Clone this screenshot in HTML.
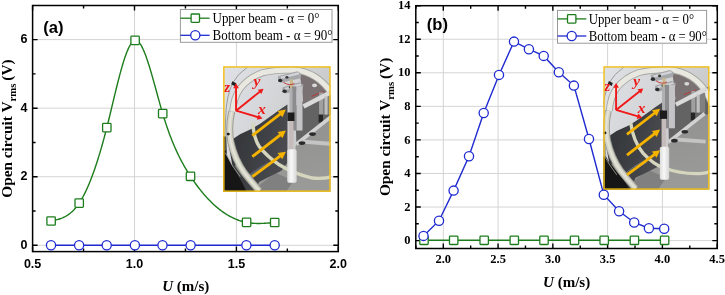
<!DOCTYPE html><html><head><meta charset="utf-8"><style>html,body{margin:0;padding:0;background:#fff;}svg{will-change:transform;}svg{display:block;}.ts{font-family:"Liberation Sans",sans-serif;font-weight:bold;font-size:12.5px;fill:#000;}.tr{font-family:"Liberation Serif",serif;font-weight:bold;font-size:12.5px;fill:#000;}.lg{font-family:"Liberation Serif",serif;font-size:13px;fill:#000;}.tt{font-family:"Liberation Serif",serif;font-weight:bold;font-size:15px;fill:#000;}.pl{font-family:"Liberation Sans",sans-serif;font-weight:bold;font-size:16.6px;fill:#000;}.ax{font-family:"Liberation Serif",serif;font-style:italic;font-weight:bold;font-size:15.5px;fill:#ee1818;}</style></head><body>
<svg width="725" height="295" viewBox="0 0 725 295">
<line x1="134.50" y1="5.5" x2="134.50" y2="251.6" stroke="#d4d4d4" stroke-width="1"/>
<line x1="236.40" y1="5.5" x2="236.40" y2="251.6" stroke="#d4d4d4" stroke-width="1"/>
<line x1="32.6" y1="245.30" x2="338.3" y2="245.30" stroke="#d4d4d4" stroke-width="1"/>
<line x1="32.6" y1="176.74" x2="338.3" y2="176.74" stroke="#d4d4d4" stroke-width="1"/>
<line x1="32.6" y1="108.18" x2="338.3" y2="108.18" stroke="#d4d4d4" stroke-width="1"/>
<line x1="32.6" y1="39.62" x2="338.3" y2="39.62" stroke="#d4d4d4" stroke-width="1"/>
<path d="M32.60 251.6v-5M32.60 5.5v5M134.50 251.6v-5M134.50 5.5v5M236.40 251.6v-5M236.40 5.5v5M338.30 251.6v-5M338.30 5.5v5M83.55 251.6v-3M83.55 5.5v3M185.45 251.6v-3M185.45 5.5v3M287.35 251.6v-3M287.35 5.5v3M32.6 245.30h5M338.3 245.30h-5M32.6 176.74h5M338.3 176.74h-5M32.6 108.18h5M338.3 108.18h-5M32.6 39.62h5M338.3 39.62h-5M32.6 211.02h3M338.3 211.02h-3M32.6 142.46h3M338.3 142.46h-3M32.6 73.90h3M338.3 73.90h-3" stroke="#000" stroke-width="1.4" fill="none"/>
<rect x="32.6" y="5.5" width="305.70" height="246.10" fill="none" stroke="#000" stroke-width="1.5"/>
<text x="32.60" y="267.50" text-anchor="middle" class="ts">0.5</text>
<text x="134.50" y="267.50" text-anchor="middle" class="ts">1.0</text>
<text x="236.40" y="267.50" text-anchor="middle" class="ts">1.5</text>
<text x="338.30" y="267.50" text-anchor="middle" class="ts">2.0</text>
<text x="27.40" y="249.00" text-anchor="end" class="ts">0</text>
<text x="27.40" y="180.44" text-anchor="end" class="ts">2</text>
<text x="27.40" y="111.88" text-anchor="end" class="ts">4</text>
<text x="27.40" y="43.32" text-anchor="end" class="ts">6</text>
<line x1="443.30" y1="5.7" x2="443.30" y2="248.5" stroke="#d4d4d4" stroke-width="1"/>
<line x1="498.07" y1="5.7" x2="498.07" y2="248.5" stroke="#d4d4d4" stroke-width="1"/>
<line x1="552.85" y1="5.7" x2="552.85" y2="248.5" stroke="#d4d4d4" stroke-width="1"/>
<line x1="607.62" y1="5.7" x2="607.62" y2="248.5" stroke="#d4d4d4" stroke-width="1"/>
<line x1="662.40" y1="5.7" x2="662.40" y2="248.5" stroke="#d4d4d4" stroke-width="1"/>
<line x1="415.8" y1="240.60" x2="717.3" y2="240.60" stroke="#d4d4d4" stroke-width="1"/>
<line x1="415.8" y1="207.04" x2="717.3" y2="207.04" stroke="#d4d4d4" stroke-width="1"/>
<line x1="415.8" y1="173.48" x2="717.3" y2="173.48" stroke="#d4d4d4" stroke-width="1"/>
<line x1="415.8" y1="139.92" x2="717.3" y2="139.92" stroke="#d4d4d4" stroke-width="1"/>
<line x1="415.8" y1="106.36" x2="717.3" y2="106.36" stroke="#d4d4d4" stroke-width="1"/>
<line x1="415.8" y1="72.80" x2="717.3" y2="72.80" stroke="#d4d4d4" stroke-width="1"/>
<line x1="415.8" y1="39.24" x2="717.3" y2="39.24" stroke="#d4d4d4" stroke-width="1"/>
<path d="M443.30 248.5v-5M443.30 5.7v5M498.07 248.5v-5M498.07 5.7v5M552.85 248.5v-5M552.85 5.7v5M607.62 248.5v-5M607.62 5.7v5M662.40 248.5v-5M662.40 5.7v5M717.17 248.5v-5M717.17 5.7v5M415.91 248.5v-3M415.91 5.7v3M470.69 248.5v-3M470.69 5.7v3M525.46 248.5v-3M525.46 5.7v3M580.24 248.5v-3M580.24 5.7v3M635.01 248.5v-3M635.01 5.7v3M689.79 248.5v-3M689.79 5.7v3M415.8 240.60h5M717.3 240.60h-5M415.8 207.04h5M717.3 207.04h-5M415.8 173.48h5M717.3 173.48h-5M415.8 139.92h5M717.3 139.92h-5M415.8 106.36h5M717.3 106.36h-5M415.8 72.80h5M717.3 72.80h-5M415.8 39.24h5M717.3 39.24h-5M415.8 5.68h5M717.3 5.68h-5M415.8 223.82h3M717.3 223.82h-3M415.8 190.26h3M717.3 190.26h-3M415.8 156.70h3M717.3 156.70h-3M415.8 123.14h3M717.3 123.14h-3M415.8 89.58h3M717.3 89.58h-3M415.8 56.02h3M717.3 56.02h-3M415.8 22.46h3M717.3 22.46h-3" stroke="#000" stroke-width="1.4" fill="none"/>
<rect x="415.8" y="5.7" width="301.50" height="242.80" fill="none" stroke="#000" stroke-width="1.5"/>
<text x="443.30" y="263.30" text-anchor="middle" class="tr">2.0</text>
<text x="498.07" y="263.30" text-anchor="middle" class="tr">2.5</text>
<text x="552.85" y="263.30" text-anchor="middle" class="tr">3.0</text>
<text x="607.62" y="263.30" text-anchor="middle" class="tr">3.5</text>
<text x="662.40" y="263.30" text-anchor="middle" class="tr">4.0</text>
<text x="717.17" y="263.30" text-anchor="middle" class="tr">4.5</text>
<text x="410.60" y="244.20" text-anchor="end" class="tr">0</text>
<text x="410.60" y="210.64" text-anchor="end" class="tr">2</text>
<text x="410.60" y="177.08" text-anchor="end" class="tr">4</text>
<text x="410.60" y="143.52" text-anchor="end" class="tr">6</text>
<text x="410.60" y="109.96" text-anchor="end" class="tr">8</text>
<text x="410.60" y="76.40" text-anchor="end" class="tr">10</text>
<text x="410.60" y="42.84" text-anchor="end" class="tr">12</text>
<text x="410.60" y="9.28" text-anchor="end" class="tr">14</text>
<defs><clipPath id="clipa"><rect x="0" y="0" width="107" height="125"/></clipPath><linearGradient id="bga" x1="0" y1="0" x2="1" y2="0.6"><stop offset="0" stop-color="#dee1e6"/><stop offset="0.5" stop-color="#d3d4d6"/><stop offset="1" stop-color="#c4c4c4"/></linearGradient><linearGradient id="dka" x1="0" y1="0" x2="1" y2="0.4"><stop offset="0" stop-color="#303236"/><stop offset="0.5" stop-color="#3a3c41"/><stop offset="1" stop-color="#4a4b50"/></linearGradient><filter id="bla" x="-5%" y="-5%" width="110%" height="110%"><feGaussianBlur stdDeviation="0.45"/></filter><linearGradient id="fla" x1="0" y1="0" x2="0.3" y2="1"><stop offset="0" stop-color="#909090"/><stop offset="1" stop-color="#9a9a98"/></linearGradient><linearGradient id="cya" x1="0" y1="0" x2="1" y2="0"><stop offset="0" stop-color="#dcdcdc"/><stop offset="0.45" stop-color="#f8f8f8"/><stop offset="1" stop-color="#d6d6d6"/></linearGradient></defs><g transform="translate(223.2,66.3) scale(1.0037,1.0040)"><g clip-path="url(#clipa)"><rect x="0" y="0" width="107" height="125" fill="url(#bga)"/><g filter="url(#bla)"><g transform="translate(0,0)"><path d="M76 36 L118 20 L118 46 L73 82 L72 40 Z" fill="#646464"/><path d="M76 6 Q94 8 106 24 L80 39 L78 20 Z" fill="#7a7272"/><ellipse cx="91" cy="19" rx="2.5" ry="1.8" fill="#d8d8d8"/><path d="M88 30 L100 25" stroke="#c03030" stroke-width="0.9"/><path d="M72 80 L108 50 L118 50 L118 130 L20 130 L30 110 L60 100 L64 92 L72 92 Z" fill="url(#fla)"/><path d="M34 120 L52 106 L70 114 L62 126 L34 126 Z" fill="#808080"/></g><path d="M5 75 L9.3 72.7 L16.8 67.6 L29 62 L37.1 56.9 L51.4 46.7 L55.4 43.7 L64 38 L64 96 L58 104 L46 110 L36 115 L30 126 L24 126 L10 104 Z" fill="url(#dka)"/><path d="M24 110 Q34 100 46 95 L48 98 Q36 104 26 114 Z" fill="#6a7080" opacity="0.7"/><g transform="translate(0,0)"><path d="M-8 70 L3 70 L3.5 88 Q8 98 13.2 106 Q18 114 24 126 L-8 126 Z" fill="#141414"/><path d="M2 86 Q9 100 17 110" fill="none" stroke="#a8a8a0" stroke-width="0.8"/><path d="M13 98 Q22 112 36 124" fill="none" stroke="#b4b4a0" stroke-width="4" opacity="0.6"/><path d="M8.5 45 Q5 60 7.5 75 Q11.5 93 21 106 Q28 115 36 124" fill="none" stroke="#9c9c96" stroke-width="7"/><path d="M8.5 45 Q5 60 7.5 75 Q11.5 93 21 106 Q28 115 36 124" fill="none" stroke="#d4d4c6" stroke-width="5"/><path d="M8.5 45 Q5 60 7.5 75 Q11.5 93 21 106 Q28 115 36 124" fill="none" stroke="#e4e4da" stroke-width="1.6"/><path d="M24 1 Q14 8 9.5 16.5 Q3 30 2.5 50 Q1.5 66 2 84" fill="none" stroke="#8a8a8a" stroke-width="0.8"/><path d="M9 15 L13 17 L12 20 L8 18 Z" fill="#222"/><ellipse cx="20" cy="21.7" rx="1.8" ry="1" fill="#f4f4f4"/><ellipse cx="5" cy="67.5" rx="1.6" ry="1.4" fill="#1e1e1e"/><path d="M9.5 45 Q10.5 31 17 22 Q25 11.5 39 6.5 Q50 3.5 70 3.5 Q94 5.5 108 27 L114 40" fill="none" stroke="#a4a4a0" stroke-width="7"/><path d="M9.5 45 Q10.5 31 17 22 Q25 11.5 39 6.5 Q50 3.5 70 3.5 Q94 5.5 108 27 L114 40" fill="none" stroke="#e8e7e0" stroke-width="5.2"/></g><path d="M29.5 56 Q30.5 72 36 80 Q44 90 55 97.5 Q70 107 89 111.3 Q100 112.5 112 109" fill="none" stroke="#d6d6be" stroke-width="3.4"/><g transform="translate(0,0)"><path d="M54.5 10 L74 5 L78 7.5 L77 12 L58 16.5 L55 14.5 Z" fill="#a6a7aa"/><path d="M57 10.5 L75 6 L76 8 L58 12.5 Z" fill="#d4d5d8"/><path d="M59 21 L76 16 L80 18.5 L79 23 L62 27 L59 25 Z" fill="#a0a1a4"/><path d="M61 21.5 L77 17 L78 19 L62 23.5 Z" fill="#cfd0d2"/><ellipse cx="56.8" cy="14.2" rx="2.2" ry="1.8" fill="#2c2c2c"/><ellipse cx="61.2" cy="24.8" rx="2.2" ry="1.8" fill="#2c2c2c"/><ellipse cx="63.5" cy="11" rx="1.6" ry="1.4" fill="#3a3a3a"/><ellipse cx="67" cy="21" rx="1.6" ry="1.4" fill="#3a3a3a"/><rect x="66.5" y="13" width="3" height="10" fill="#c8b88a"/><path d="M60 16 Q66 20 71 17" fill="none" stroke="#c83030" stroke-width="0.9"/><rect x="68.5" y="20" width="4.5" height="44" fill="#8c8c8e"/><rect x="73" y="20" width="6" height="44" fill="#c4c4c6"/><rect x="95.5" y="26" width="4" height="26" fill="#a0a0a0"/><rect x="95" y="48" width="4.5" height="8" fill="#262626"/><rect x="99.5" y="28" width="10" height="20" fill="#808080"/><path d="M79 38 L104 25 L110 22 L112 26 L81 42 Z" fill="#dadada"/><path d="M72 76 L108 47.5 L110 50.5 L73.5 79.5 Z" fill="#d2d2d2"/><path d="M77 73 L110 75.5 L110 79.5 L77 77 Z" fill="#c4c4c4"/><rect x="101" y="30" width="3" height="18" fill="#c0c0c0"/><ellipse cx="89" cy="67.5" rx="3.4" ry="1.8" fill="#2a2a2a"/><ellipse cx="78.5" cy="76.5" rx="3.4" ry="1.8" fill="#2a2a2a"/><rect x="66" y="22" width="3" height="24" fill="#b0b0b2"/><rect x="64" y="46" width="7" height="8.5" fill="#1a1a1a"/><rect x="65.5" y="54.5" width="4.5" height="29" fill="#c6bcbc"/><rect x="63.8" y="82.6" width="9.4" height="33.5" rx="1.8" fill="url(#cya)"/></g></g><line x1="29.00" y1="69.00" x2="56.97" y2="47.29" stroke="#f5b300" stroke-width="2.8"/><polygon points="62.50,43.00 58.97,50.68 54.18,44.52" fill="#f5b300"/><line x1="29.00" y1="90.00" x2="56.97" y2="68.29" stroke="#f5b300" stroke-width="2.8"/><polygon points="62.50,64.00 58.97,71.68 54.18,65.52" fill="#f5b300"/><line x1="29.00" y1="110.00" x2="56.89" y2="89.19" stroke="#f5b300" stroke-width="2.8"/><polygon points="62.50,85.00 58.82,92.61 54.16,86.36" fill="#f5b300"/><line x1="12.80" y1="44.20" x2="12.80" y2="21.30" stroke="#f01818" stroke-width="1.9"/><polygon points="12.80,16.80 15.60,21.80 10.00,21.80" fill="#f01818"/><line x1="12.80" y1="44.20" x2="36.68" y2="25.20" stroke="#f01818" stroke-width="1.9"/><polygon points="40.20,22.40 38.03,27.70 34.54,23.32" fill="#f01818"/><line x1="12.80" y1="44.20" x2="34.88" y2="50.72" stroke="#f01818" stroke-width="1.9"/><polygon points="39.20,52.00 33.61,53.27 35.20,47.90" fill="#f01818"/><text x="0.8" y="25.4" class="ax">z</text><text x="30.2" y="19.8" class="ax">y</text><text x="34.6" y="47.6" class="ax">x</text></g><rect x="0.65" y="0.65" width="105.7" height="123.7" fill="none" stroke="#f4c014" stroke-width="1.4"/></g>
<defs><clipPath id="clipb"><rect x="0" y="0" width="107" height="125"/></clipPath><linearGradient id="bgb" x1="0" y1="0" x2="1" y2="0.6"><stop offset="0" stop-color="#dee1e6"/><stop offset="0.5" stop-color="#d3d4d6"/><stop offset="1" stop-color="#c4c4c4"/></linearGradient><linearGradient id="dkb" x1="0" y1="0" x2="1" y2="0.4"><stop offset="0" stop-color="#303236"/><stop offset="0.5" stop-color="#3a3c41"/><stop offset="1" stop-color="#4a4b50"/></linearGradient><filter id="blb" x="-5%" y="-5%" width="110%" height="110%"><feGaussianBlur stdDeviation="0.45"/></filter><linearGradient id="flb" x1="0" y1="0" x2="0.3" y2="1"><stop offset="0" stop-color="#909090"/><stop offset="1" stop-color="#9a9a98"/></linearGradient><linearGradient id="cyb" x1="0" y1="0" x2="1" y2="0"><stop offset="0" stop-color="#dcdcdc"/><stop offset="0.45" stop-color="#f8f8f8"/><stop offset="1" stop-color="#d6d6d6"/></linearGradient></defs><g transform="translate(603.4,66.3) scale(0.9907,0.9872)"><g clip-path="url(#clipb)"><rect x="0" y="0" width="107" height="125" fill="url(#bgb)"/><g filter="url(#blb)"><g transform="translate(-6.8,-1.2)"><path d="M76 36 L118 20 L118 46 L73 82 L72 40 Z" fill="#646464"/><path d="M76 6 Q94 8 106 24 L80 39 L78 20 Z" fill="#7a7272"/><ellipse cx="91" cy="19" rx="2.5" ry="1.8" fill="#d8d8d8"/><path d="M88 30 L100 25" stroke="#c03030" stroke-width="0.9"/><path d="M72 80 L108 50 L118 50 L118 130 L20 130 L30 110 L60 100 L64 92 L72 92 Z" fill="url(#flb)"/><path d="M34 120 L52 106 L70 114 L62 126 L34 126 Z" fill="#808080"/></g><path transform="translate(-3.5,-2)" d="M5 75 L9.3 72.7 L16.8 67.6 L29 62 L37.1 56.9 L51.4 46.7 L55.4 43.7 L64 38 L64 96 L58 104 L46 110 L36 115 L30 128 L24 128 L10 104 Z" fill="url(#dkb)"/><path d="M20 110 Q30 100 42 95 L44 98 Q32 104 22 114 Z" fill="#6a7080" opacity="0.7"/><g transform="translate(-3.5,0)"><path d="M-8 91 L6 91 Q10 100 17 106 Q24 115 31 126 L-8 126 Z" fill="#141414"/><path d="M-8 60 L5 60 L6 91 L-8 91 Z" fill="#8e8e8e"/><path d="M2 86 Q9 100 17 110" fill="none" stroke="#a8a8a0" stroke-width="0.8"/><path d="M13 98 Q22 112 36 124" fill="none" stroke="#b4b4a0" stroke-width="4" opacity="0.6"/><path d="M8.5 45 Q5 60 7.5 75 Q11.5 93 21 106 Q28 115 36 124" fill="none" stroke="#9c9c96" stroke-width="7"/><path d="M8.5 45 Q5 60 7.5 75 Q11.5 93 21 106 Q28 115 36 124" fill="none" stroke="#d4d4c6" stroke-width="5"/><path d="M8.5 45 Q5 60 7.5 75 Q11.5 93 21 106 Q28 115 36 124" fill="none" stroke="#e4e4da" stroke-width="1.6"/><path d="M24 1 Q14 8 9.5 16.5 Q3 30 2.5 50 Q1.5 66 2 84" fill="none" stroke="#8a8a8a" stroke-width="0.8"/><path d="M9 15 L13 17 L12 20 L8 18 Z" fill="#222"/><ellipse cx="20" cy="21.7" rx="1.8" ry="1" fill="#f4f4f4"/><ellipse cx="5" cy="67.5" rx="1.6" ry="1.4" fill="#1e1e1e"/><path d="M9.5 45 Q10.5 31 17 22 Q25 11.5 39 6.5 Q50 3.5 70 3.5 Q94 5.5 108 27 L114 40" fill="none" stroke="#a4a4a0" stroke-width="7"/><path d="M9.5 45 Q10.5 31 17 22 Q25 11.5 39 6.5 Q50 3.5 70 3.5 Q94 5.5 108 27 L114 40" fill="none" stroke="#e8e7e0" stroke-width="5.2"/></g><path d="M27.5 57 Q30 76 40 88 Q50 99 60 102.5 Q80 110 100 108.5 Q106 108 112 104" fill="none" stroke="#d6d6be" stroke-width="3.4"/><g transform="translate(-6.8,-1.2)"><path d="M54.5 10 L74 5 L78 7.5 L77 12 L58 16.5 L55 14.5 Z" fill="#a6a7aa"/><path d="M57 10.5 L75 6 L76 8 L58 12.5 Z" fill="#d4d5d8"/><path d="M59 21 L76 16 L80 18.5 L79 23 L62 27 L59 25 Z" fill="#a0a1a4"/><path d="M61 21.5 L77 17 L78 19 L62 23.5 Z" fill="#cfd0d2"/><ellipse cx="56.8" cy="14.2" rx="2.2" ry="1.8" fill="#2c2c2c"/><ellipse cx="61.2" cy="24.8" rx="2.2" ry="1.8" fill="#2c2c2c"/><ellipse cx="63.5" cy="11" rx="1.6" ry="1.4" fill="#3a3a3a"/><ellipse cx="67" cy="21" rx="1.6" ry="1.4" fill="#3a3a3a"/><rect x="66.5" y="13" width="3" height="10" fill="#c8b88a"/><path d="M60 16 Q66 20 71 17" fill="none" stroke="#c83030" stroke-width="0.9"/><rect x="68.5" y="20" width="4.5" height="44" fill="#8c8c8e"/><rect x="73" y="20" width="6" height="44" fill="#c4c4c6"/><rect x="95.5" y="26" width="4" height="26" fill="#a0a0a0"/><rect x="95" y="48" width="4.5" height="8" fill="#262626"/><rect x="99.5" y="28" width="10" height="20" fill="#808080"/><path d="M79 38 L104 25 L110 22 L112 26 L81 42 Z" fill="#dadada"/><path d="M72 76 L108 47.5 L110 50.5 L73.5 79.5 Z" fill="#d2d2d2"/><path d="M77 73 L110 75.5 L110 79.5 L77 77 Z" fill="#c4c4c4"/><rect x="101" y="30" width="3" height="18" fill="#c0c0c0"/><ellipse cx="89" cy="67.5" rx="3.4" ry="1.8" fill="#2a2a2a"/><ellipse cx="78.5" cy="76.5" rx="3.4" ry="1.8" fill="#2a2a2a"/><rect x="66" y="22" width="3" height="24" fill="#b0b0b2"/><rect x="64" y="46" width="7" height="8.5" fill="#1a1a1a"/><rect x="65.5" y="54.5" width="4.5" height="29" fill="#c6bcbc"/><rect x="63.8" y="82.6" width="9.4" height="33.5" rx="1.8" fill="url(#cyb)"/></g></g><line x1="23.80" y1="69.00" x2="51.77" y2="47.29" stroke="#f5b300" stroke-width="2.8"/><polygon points="57.30,43.00 53.77,50.68 48.98,44.52" fill="#f5b300"/><line x1="23.80" y1="90.00" x2="51.77" y2="68.29" stroke="#f5b300" stroke-width="2.8"/><polygon points="57.30,64.00 53.77,71.68 48.98,65.52" fill="#f5b300"/><line x1="23.80" y1="110.00" x2="51.69" y2="89.19" stroke="#f5b300" stroke-width="2.8"/><polygon points="57.30,85.00 53.62,92.61 48.96,86.36" fill="#f5b300"/><line x1="12.80" y1="44.20" x2="12.80" y2="21.30" stroke="#f01818" stroke-width="1.9"/><polygon points="12.80,16.80 15.60,21.80 10.00,21.80" fill="#f01818"/><line x1="12.80" y1="44.20" x2="36.68" y2="25.20" stroke="#f01818" stroke-width="1.9"/><polygon points="40.20,22.40 38.03,27.70 34.54,23.32" fill="#f01818"/><line x1="12.80" y1="44.20" x2="34.88" y2="50.72" stroke="#f01818" stroke-width="1.9"/><polygon points="39.20,52.00 33.61,53.27 35.20,47.90" fill="#f01818"/><text x="0.8" y="25.4" class="ax">z</text><text x="30.2" y="19.8" class="ax">y</text><text x="34.6" y="47.6" class="ax">x</text></g><rect x="0.65" y="0.65" width="105.7" height="123.7" fill="none" stroke="#f4c014" stroke-width="1.4"/></g>
<rect x="180.4" y="9.5" width="151.60" height="32.80" fill="#fff" stroke="#9a9a9a" stroke-width="1"/>
<line x1="180.4" y1="18.2" x2="209.6" y2="18.2" stroke="#1d7d1d" stroke-width="1.3"/>
<rect x="191.10" y="14.00" width="8.4" height="8.4" rx="0.8" fill="#fff" stroke="#1d7d1d" stroke-width="1.3"/>
<line x1="180.4" y1="35.3" x2="209.6" y2="35.3" stroke="#1f2bd0" stroke-width="1.3"/>
<circle cx="195.30" cy="35.30" r="4.6" fill="#fff" stroke="#1f2bd0" stroke-width="1.3"/>
<text transform="translate(212.5,22.60) scale(1.0,1.08)" class="lg">Upper beam - &#945; = 0&#176;</text>
<text transform="translate(212.5,39.60) scale(1.0,1.08)" class="lg">Bottom beam - &#945; = 90&#176;</text>
<rect x="557.5" y="10.4" width="149.10" height="32.80" fill="#fff" stroke="#9a9a9a" stroke-width="1"/>
<line x1="557.5" y1="18.9" x2="586.3" y2="18.9" stroke="#1d7d1d" stroke-width="1.3"/>
<rect x="567.50" y="14.70" width="8.4" height="8.4" rx="0.8" fill="#fff" stroke="#1d7d1d" stroke-width="1.3"/>
<line x1="557.5" y1="36.0" x2="586.3" y2="36.0" stroke="#1f2bd0" stroke-width="1.3"/>
<circle cx="571.70" cy="36.00" r="4.6" fill="#fff" stroke="#1f2bd0" stroke-width="1.3"/>
<text transform="translate(588.7,23.60) scale(0.985,1.08)" class="lg">Upper beam - &#945; = 0&#176;</text>
<text transform="translate(588.7,40.60) scale(0.985,1.08)" class="lg">Bottom beam - &#945; = 90&#176;</text>
<path d="M51.10 221.00 L51.85 220.84 L52.60 220.69 L53.34 220.53 L54.09 220.37 L54.84 220.20 L55.59 220.02 L56.33 219.84 L57.08 219.64 L57.83 219.44 L58.58 219.22 L59.33 218.99 L60.07 218.75 L60.82 218.49 L61.57 218.21 L62.32 217.91 L63.07 217.59 L63.81 217.25 L64.56 216.88 L65.31 216.50 L66.06 216.08 L66.80 215.64 L67.55 215.17 L68.30 214.67 L69.05 214.13 L69.80 213.57 L70.54 212.97 L71.29 212.34 L72.04 211.66 L72.79 210.95 L73.53 210.21 L74.28 209.42 L75.03 208.58 L75.78 207.71 L76.53 206.78 L77.27 205.82 L78.02 204.80 L78.77 203.74 L79.52 202.62 L80.27 201.45 L81.01 200.24 L81.76 198.97 L82.51 197.65 L83.26 196.28 L84.00 194.85 L84.75 193.38 L85.50 191.86 L86.25 190.28 L87.00 188.66 L87.74 186.99 L88.49 185.26 L89.24 183.49 L89.99 181.66 L90.73 179.79 L91.48 177.86 L92.23 175.89 L92.98 173.86 L93.73 171.79 L94.47 169.66 L95.22 167.49 L95.97 165.27 L96.72 162.99 L97.47 160.67 L98.21 158.30 L98.96 155.88 L99.71 153.42 L100.46 150.90 L101.20 148.33 L101.95 145.72 L102.70 143.06 L103.45 140.35 L104.20 137.59 L104.94 134.78 L105.69 131.92 L106.44 129.02 L107.19 126.07 L107.93 123.07 L108.68 120.04 L109.43 116.97 L110.18 113.88 L110.93 110.77 L111.67 107.65 L112.42 104.52 L113.17 101.40 L113.92 98.28 L114.67 95.17 L115.41 92.09 L116.16 89.03 L116.91 86.01 L117.66 83.03 L118.40 80.09 L119.15 77.21 L119.90 74.38 L120.65 71.62 L121.40 68.94 L122.14 66.33 L122.89 63.81 L123.64 61.38 L124.39 59.05 L125.13 56.83 L125.88 54.72 L126.63 52.72 L127.38 50.85 L128.13 49.11 L128.87 47.51 L129.62 46.06 L130.37 44.75 L131.12 43.60 L131.87 42.62 L132.61 41.80 L133.36 41.16 L134.11 40.71 L134.86 40.44 L135.60 40.37 L136.35 40.50 L137.10 40.81 L137.85 41.30 L138.60 41.97 L139.34 42.80 L140.09 43.78 L140.84 44.93 L141.59 46.21 L142.33 47.64 L143.08 49.19 L143.83 50.87 L144.58 52.67 L145.33 54.58 L146.07 56.59 L146.82 58.70 L147.57 60.90 L148.32 63.18 L149.07 65.54 L149.81 67.96 L150.56 70.45 L151.31 72.99 L152.06 75.58 L152.80 78.22 L153.55 80.88 L154.30 83.57 L155.05 86.29 L155.80 89.02 L156.54 91.75 L157.29 94.48 L158.04 97.21 L158.79 99.92 L159.53 102.61 L160.28 105.27 L161.03 107.90 L161.78 110.48 L162.53 113.02 L163.27 115.50 L164.02 117.92 L164.77 120.29 L165.52 122.60 L166.27 124.86 L167.01 127.07 L167.76 129.23 L168.51 131.34 L169.26 133.39 L170.00 135.40 L170.75 137.37 L171.50 139.29 L172.25 141.16 L173.00 142.99 L173.74 144.78 L174.49 146.53 L175.24 148.24 L175.99 149.91 L176.73 151.54 L177.48 153.14 L178.23 154.70 L178.98 156.23 L179.73 157.73 L180.47 159.19 L181.22 160.62 L181.97 162.02 L182.72 163.40 L183.47 164.75 L184.21 166.07 L184.96 167.36 L185.71 168.64 L186.46 169.89 L187.20 171.11 L187.95 172.32 L188.70 173.51 L189.45 174.68 L190.20 175.84 L190.94 176.97 L191.69 178.10 L192.44 179.20 L193.19 180.29 L193.93 181.37 L194.68 182.43 L195.43 183.48 L196.18 184.51 L196.93 185.53 L197.67 186.53 L198.42 187.51 L199.17 188.49 L199.92 189.44 L200.67 190.39 L201.41 191.31 L202.16 192.23 L202.91 193.13 L203.66 194.01 L204.40 194.88 L205.15 195.74 L205.90 196.58 L206.65 197.40 L207.40 198.22 L208.14 199.01 L208.89 199.80 L209.64 200.57 L210.39 201.33 L211.13 202.07 L211.88 202.80 L212.63 203.51 L213.38 204.22 L214.13 204.90 L214.87 205.58 L215.62 206.24 L216.37 206.88 L217.12 207.52 L217.87 208.14 L218.61 208.75 L219.36 209.34 L220.11 209.92 L220.86 210.49 L221.60 211.04 L222.35 211.58 L223.10 212.11 L223.85 212.62 L224.60 213.13 L225.34 213.62 L226.09 214.09 L226.84 214.56 L227.59 215.01 L228.33 215.45 L229.08 215.87 L229.83 216.29 L230.58 216.69 L231.33 217.08 L232.07 217.45 L232.82 217.82 L233.57 218.17 L234.32 218.51 L235.07 218.84 L235.81 219.15 L236.56 219.46 L237.31 219.75 L238.06 220.03 L238.80 220.30 L239.55 220.55 L240.30 220.80 L241.05 221.03 L241.80 221.25 L242.54 221.46 L243.29 221.66 L244.04 221.85 L244.79 222.02 L245.53 222.19 L246.28 222.34 L247.03 222.48 L247.78 222.61 L248.53 222.73 L249.27 222.84 L250.02 222.94 L250.77 223.03 L251.52 223.11 L252.27 223.18 L253.01 223.24 L253.76 223.30 L254.51 223.34 L255.26 223.38 L256.00 223.41 L256.75 223.43 L257.50 223.45 L258.25 223.45 L259.00 223.45 L259.74 223.45 L260.49 223.44 L261.24 223.42 L261.99 223.40 L262.73 223.37 L263.48 223.34 L264.23 223.31 L264.98 223.27 L265.73 223.22 L266.47 223.17 L267.22 223.12 L267.97 223.07 L268.72 223.01 L269.47 222.95 L270.21 222.89 L270.96 222.83 L271.71 222.77 L272.46 222.70 L273.20 222.63 L273.95 222.57 L274.70 222.50" fill="none" stroke="#1d7d1d" stroke-width="1.4"/>
<path d="M51.00 245.20 L79.10 245.20 L106.70 245.20 L134.90 245.20 L162.50 245.20 L190.60 245.20 L246.40 245.20 L274.70 245.20" fill="none" stroke="#1f2bd0" stroke-width="1.4"/>
<rect x="46.90" y="216.80" width="8.4" height="8.4" rx="0.8" fill="#fff" stroke="#1d7d1d" stroke-width="1.3"/>
<rect x="75.00" y="198.90" width="8.4" height="8.4" rx="0.8" fill="#fff" stroke="#1d7d1d" stroke-width="1.3"/>
<rect x="102.60" y="123.40" width="8.4" height="8.4" rx="0.8" fill="#fff" stroke="#1d7d1d" stroke-width="1.3"/>
<rect x="130.90" y="36.20" width="8.4" height="8.4" rx="0.8" fill="#fff" stroke="#1d7d1d" stroke-width="1.3"/>
<rect x="158.50" y="109.40" width="8.4" height="8.4" rx="0.8" fill="#fff" stroke="#1d7d1d" stroke-width="1.3"/>
<rect x="186.30" y="172.10" width="8.4" height="8.4" rx="0.8" fill="#fff" stroke="#1d7d1d" stroke-width="1.3"/>
<rect x="242.40" y="218.20" width="8.4" height="8.4" rx="0.8" fill="#fff" stroke="#1d7d1d" stroke-width="1.3"/>
<rect x="270.50" y="218.30" width="8.4" height="8.4" rx="0.8" fill="#fff" stroke="#1d7d1d" stroke-width="1.3"/>
<circle cx="51.00" cy="245.20" r="4.6" fill="#fff" stroke="#1f2bd0" stroke-width="1.3"/>
<circle cx="79.10" cy="245.20" r="4.6" fill="#fff" stroke="#1f2bd0" stroke-width="1.3"/>
<circle cx="106.70" cy="245.20" r="4.6" fill="#fff" stroke="#1f2bd0" stroke-width="1.3"/>
<circle cx="134.90" cy="245.20" r="4.6" fill="#fff" stroke="#1f2bd0" stroke-width="1.3"/>
<circle cx="162.50" cy="245.20" r="4.6" fill="#fff" stroke="#1f2bd0" stroke-width="1.3"/>
<circle cx="190.60" cy="245.20" r="4.6" fill="#fff" stroke="#1f2bd0" stroke-width="1.3"/>
<circle cx="246.40" cy="245.20" r="4.6" fill="#fff" stroke="#1f2bd0" stroke-width="1.3"/>
<circle cx="274.70" cy="245.20" r="4.6" fill="#fff" stroke="#1f2bd0" stroke-width="1.3"/>
<path d="M424.00 240.30 L453.70 240.30 L484.20 240.30 L514.30 240.30 L544.00 240.30 L574.50 240.30 L604.20 240.30 L634.40 240.30 L664.60 240.30" fill="none" stroke="#1d7d1d" stroke-width="1.4"/>
<rect x="419.80" y="236.10" width="8.4" height="8.4" rx="0.8" fill="#fff" stroke="#1d7d1d" stroke-width="1.3"/>
<rect x="449.50" y="236.10" width="8.4" height="8.4" rx="0.8" fill="#fff" stroke="#1d7d1d" stroke-width="1.3"/>
<rect x="480.00" y="236.10" width="8.4" height="8.4" rx="0.8" fill="#fff" stroke="#1d7d1d" stroke-width="1.3"/>
<rect x="510.10" y="236.10" width="8.4" height="8.4" rx="0.8" fill="#fff" stroke="#1d7d1d" stroke-width="1.3"/>
<rect x="539.80" y="236.10" width="8.4" height="8.4" rx="0.8" fill="#fff" stroke="#1d7d1d" stroke-width="1.3"/>
<rect x="570.30" y="236.10" width="8.4" height="8.4" rx="0.8" fill="#fff" stroke="#1d7d1d" stroke-width="1.3"/>
<rect x="600.00" y="236.10" width="8.4" height="8.4" rx="0.8" fill="#fff" stroke="#1d7d1d" stroke-width="1.3"/>
<rect x="630.20" y="236.10" width="8.4" height="8.4" rx="0.8" fill="#fff" stroke="#1d7d1d" stroke-width="1.3"/>
<rect x="660.40" y="236.10" width="8.4" height="8.4" rx="0.8" fill="#fff" stroke="#1d7d1d" stroke-width="1.3"/>
<path d="M423.50 235.90 L439.00 220.70 L453.60 190.60 L469.00 156.30 L483.70 113.00 L499.00 74.90 L514.00 41.60 L528.90 49.20 L543.70 55.90 L558.80 72.20 L573.90 85.60 L589.00 139.00 L603.80 194.70 L619.10 211.30 L634.20 222.50 L648.90 228.20 L664.20 228.70" fill="none" stroke="#1f2bd0" stroke-width="1.4"/>
<circle cx="423.50" cy="235.90" r="4.6" fill="#fff" stroke="#1f2bd0" stroke-width="1.3"/>
<circle cx="439.00" cy="220.70" r="4.6" fill="#fff" stroke="#1f2bd0" stroke-width="1.3"/>
<circle cx="453.60" cy="190.60" r="4.6" fill="#fff" stroke="#1f2bd0" stroke-width="1.3"/>
<circle cx="469.00" cy="156.30" r="4.6" fill="#fff" stroke="#1f2bd0" stroke-width="1.3"/>
<circle cx="483.70" cy="113.00" r="4.6" fill="#fff" stroke="#1f2bd0" stroke-width="1.3"/>
<circle cx="499.00" cy="74.90" r="4.6" fill="#fff" stroke="#1f2bd0" stroke-width="1.3"/>
<circle cx="514.00" cy="41.60" r="4.6" fill="#fff" stroke="#1f2bd0" stroke-width="1.3"/>
<circle cx="528.90" cy="49.20" r="4.6" fill="#fff" stroke="#1f2bd0" stroke-width="1.3"/>
<circle cx="543.70" cy="55.90" r="4.6" fill="#fff" stroke="#1f2bd0" stroke-width="1.3"/>
<circle cx="558.80" cy="72.20" r="4.6" fill="#fff" stroke="#1f2bd0" stroke-width="1.3"/>
<circle cx="573.90" cy="85.60" r="4.6" fill="#fff" stroke="#1f2bd0" stroke-width="1.3"/>
<circle cx="589.00" cy="139.00" r="4.6" fill="#fff" stroke="#1f2bd0" stroke-width="1.3"/>
<circle cx="603.80" cy="194.70" r="4.6" fill="#fff" stroke="#1f2bd0" stroke-width="1.3"/>
<circle cx="619.10" cy="211.30" r="4.6" fill="#fff" stroke="#1f2bd0" stroke-width="1.3"/>
<circle cx="634.20" cy="222.50" r="4.6" fill="#fff" stroke="#1f2bd0" stroke-width="1.3"/>
<circle cx="648.90" cy="228.20" r="4.6" fill="#fff" stroke="#1f2bd0" stroke-width="1.3"/>
<circle cx="664.20" cy="228.70" r="4.6" fill="#fff" stroke="#1f2bd0" stroke-width="1.3"/>
<text x="43.3" y="32.8" class="pl">(a)</text>
<text x="426.8" y="30.2" class="pl">(b)</text>
<text transform="translate(11.7,128.6) rotate(-90)" text-anchor="middle" class="tt" style="font-size:15.3px">Open circuit V<tspan font-size="10.8" dy="4.5">rms</tspan><tspan dy="-4.5" font-size="11"> </tspan>(V)</text>
<text transform="translate(389.9,126.9) rotate(-90)" text-anchor="middle" class="tt" style="font-size:15.3px">Open circuit V<tspan font-size="10.8" dy="4.5">rms</tspan><tspan dy="-4.5" font-size="11"> </tspan>(V)</text>
<text x="185.7" y="290.8" text-anchor="middle" class="tt"><tspan font-style="italic">U</tspan> (m/s)</text>
<text x="566.6" y="286.8" text-anchor="middle" class="tt"><tspan font-style="italic">U</tspan> (m/s)</text>
</svg></body></html>
